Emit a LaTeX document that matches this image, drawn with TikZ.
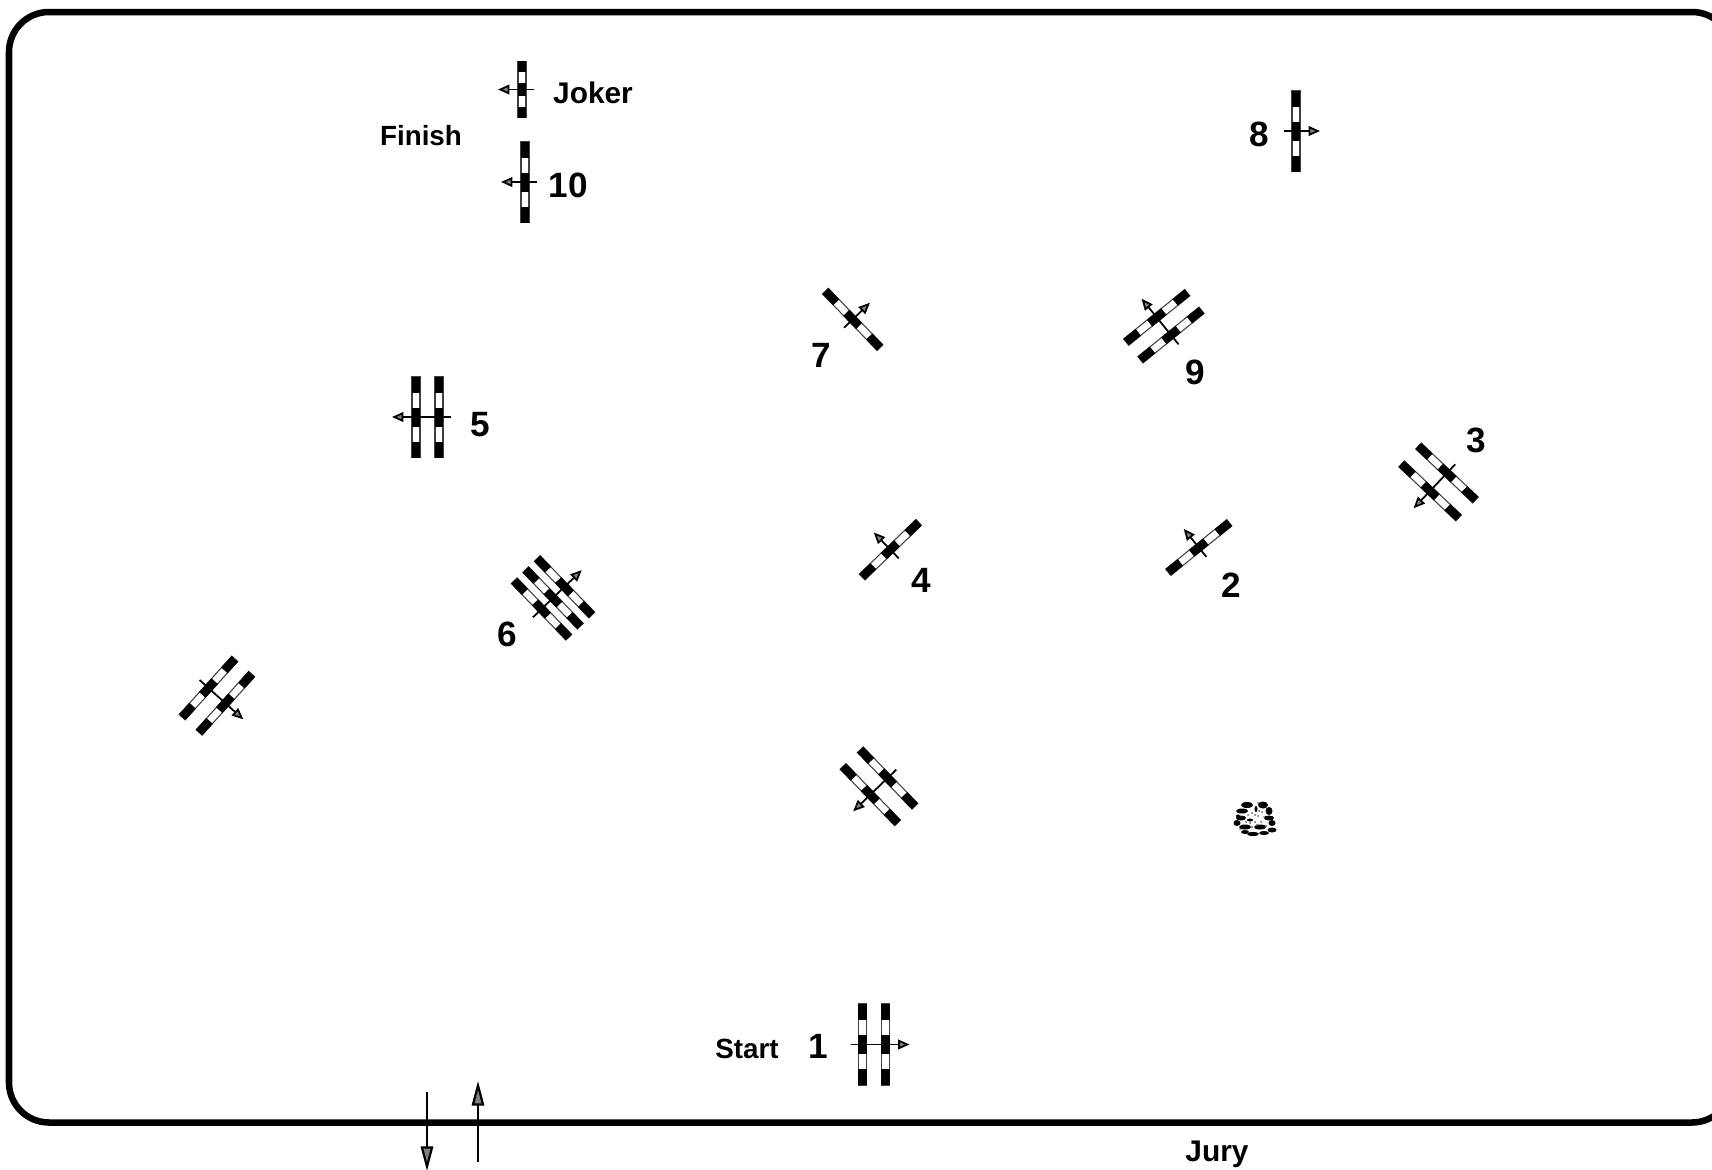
\documentclass[tikz,border=0pt]{standalone}
\usepackage{fontspec}
\setmainfont{Liberation Sans}
\usetikzlibrary{arrows.meta}

\begin{document}
\begin{tikzpicture}[
  x = 0.02cm, y = -0.02cm,
  frame/.style = {draw, line width=3.7pt, rounded corners=0.8cm},
  arrow/.style = {line width=1pt, -{Triangle[length=6.5pt,width=5.5pt,fill=gray,line width=1pt]}},
  bigarrow/.style = {line width=1.25pt, -{Triangle[length=14pt,width=7pt,fill=gray,line width=1.25pt]}},
  number/.style = {font=\bfseries\fontsize{20}{24}\selectfont},
  bigword/.style = {font=\bfseries\fontsize{17}{20}\selectfont},
  word/.style = {font=\bfseries\fontsize{15.8}{19}\selectfont},
  slant/.style = {yscale=0.97},
  pics/gate/.style n args = {2}{code={
    \foreach \i in {1,...,#1} {
      \pgfmathsetmacro{\px}{(\i-1)*#2}
      \begin{scope}[xshift=\px*0.02cm]
        \draw[line width=0.6pt, black!75, fill=white] (-4,-40.5) rectangle (4,40.5);
        \fill (-4.3,-40.5) rectangle (4.3,-24.5);
        \fill (-4.3,-9.5) rectangle (4.3,9.5);
        \fill (-4.3,24.5) rectangle (4.3,40.5);
      \end{scope}
    }
    \pgfmathsetmacro{\tipx}{(#1-1)*#2+24}
    \coordinate (-tail) at (-12,0);
    \coordinate (-tip) at (\tipx,0);
    \draw[arrow] (-tail) -- (-tip);
  }}
]
\useasboundingbox (0,0) rectangle (1712,1170);
\draw[frame] (9,12) rectangle (1732,1122.5);

% gates
\pic (start) at (862.5,1044.5) {gate={2}{23}};
\pic[rotate=129, slant] (g2) at (1198.8,547.5) {gate={1}{0}};
\pic[rotate=226.6, slant] (g3) at (1447,473) {gate={2}{24.6}};
\pic[rotate=134, slant] (g4) at (890.4,549.7) {gate={1}{0}};
\pic[rotate=180] (g5) at (439,417) {gate={2}{23}};
\pic[rotate=44, slant] (g6) at (541.5,609) {gate={3}{16}};
\pic[rotate=44, slant] (g7) at (852.7,319.4) {gate={1}{0}};
\pic (g8) at (1296,131) {gate={1}{0}};
\pic[rotate=129, slant] (g9) at (1171,335) {gate={2}{22.7}};
\pic[rotate=180] (g10) at (525,182) {gate={1}{0}};
\pic[rotate=180, yscale=0.7] (joker) at (522,89.5) {gate={1}{0}};
\pic[rotate=-42, slant] (left) at (208.5,688) {gate={2}{22.8}};
\pic[rotate=224, slant] (lower) at (887.6,778) {gate={2}{24}};

% labels
\node[word] (finish) at (421,136) {Finish};
\node[word] (startword) at (747,1049) {Start};
\node[bigword] (jokerword) at (593,93) {Joker};
\node[bigword] (jury) at (1217,1154) {Jury};
\node[number] (n1) at (818,1046) {1};
\node[number] (n2) at (1231,585) {2};
\node[number] (n3) at (1476,440) {3};
\node[number] (n4) at (921,580) {4};
\node[number] (n5) at (480,425) {5};
\node[number] (n6) at (507,634) {6};
\node[number] (n7) at (821,355) {7};
\node[number] (n8) at (1259,134) {8};
\node[number] (n9) at (1195,372) {9};
\node[number] (n10) at (568.5,185.5) {10};

% rocks
\foreach \x/\y/\a/\b in {1247/805/6/3, 1263/805/5/3.5, 1269/811/3.5/4, 1242/811/6/2.5,
    1241/818/5/2.5, 1269/818/5/2.5, 1237/823/3.5/3, 1272/823/3.5/3, 1245/827/6/2.5,
    1260/827/6/2.5, 1272/830/4.5/2.5, 1253/834/6/2, 1264/833/5/2, 1245/832/4/2,
    1256/809/1.5/3, 1250/820/3/1.5, 1238/816/2/1.5}
  \fill (\x,\y) ellipse ({\a} and {\b});
\foreach \x/\y in {1252/813, 1258/816, 1262/812, 1255/822, 1261/822, 1248/815, 1266/826, 1252/827, 1258/803, 1240/829,
    1255/815, 1259/811, 1264/817, 1257/825, 1250/823, 1246/822}
  \fill[black!60] (\x,\y) circle (1);

% entry and exit
\coordinate (outA) at (427,1092);
\coordinate (outB) at (427,1171);
\coordinate (inA) at (478,1162);
\coordinate (inB) at (478,1081);
\draw[bigarrow] (outA) -- (outB);
\draw[bigarrow] (inA) -- (inB);
\end{tikzpicture}
\end{document}
